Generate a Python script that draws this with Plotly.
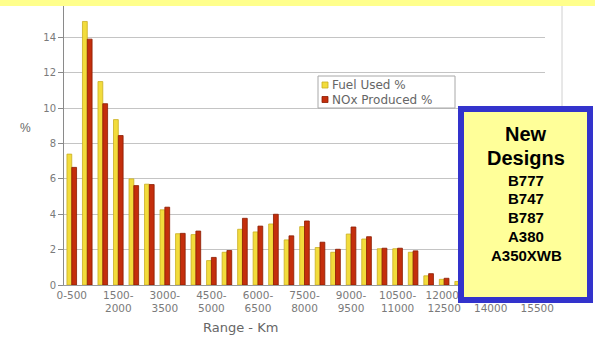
import plotly.graph_objects as go

# Range bands (km)
ranges = [
    "0-500", "500-1000", "1000-1500", "1500-2000", "2000-2500", "2500-3000",
    "3000-3500", "3500-4000", "4000-4500", "4500-5000", "5000-5500", "5500-6000",
    "6000-6500", "6500-7000", "7000-7500", "7500-8000", "8000-8500", "8500-9000",
    "9000-9500", "9500-10000", "10000-10500", "10500-11000", "11000-11500",
    "11500-12000", "12000-12500", "12500-13000", "13000-13500", "13500-14000",
    "14000-14500", "14500-15000", "15000-15500",
]

fuel_used = [
    7.4, 14.9, 11.5, 9.35, 6.0, 5.7, 4.25, 2.9, 2.85, 1.38, 1.85, 3.15,
    3.0, 3.45, 2.55, 3.3, 2.12, 1.85, 2.88, 2.6, 2.05, 2.05, 1.85, 0.52,
    0.32, 0.2, 0.15, 0.12, 0.1, 0.06, 0.05,
]

nox_produced = [
    6.65, 13.9, 10.25, 8.45, 5.62, 5.68, 4.4, 2.92, 3.05, 1.56, 1.95, 3.77,
    3.33, 4.0, 2.78, 3.62, 2.42, 2.02, 3.28, 2.73, 2.08, 2.08, 1.93, 0.64,
    0.38, 0.22, 0.16, 0.13, 0.1, 0.07, 0.05,
]

series_names = ["Fuel Used %", "NOx Produced %"]
series_colors = ["#F2DC3C", "#C42E0C"]
series_edges = ["#C9AE22", "#8A1C00"]

# Every third band gets a tick label
tick_ranges = ranges[::3]
tick_text = [r if i == 0 else r.replace("-", "-<br>") for i, r in enumerate(tick_ranges)]

aircraft = ["B777", "B747", "B787", "A380", "A350XWB"]

W, H = 595, 338
L, R, T, B = 64, 545, 2, 285
FONT = "Liberation Sans, Arial, sans-serif"


def px(x):
    return (x - L) / (R - L)


def py(y):
    return (B - y) / (B - T)


fig = go.Figure()
for name, vals, col, edge in zip(series_names, [fuel_used, nox_produced],
                                 series_colors, series_edges):
    fig.add_trace(go.Bar(
        x=ranges, y=vals, name=name,
        marker=dict(color=col, line=dict(color=edge, width=0.8)),
    ))

fig.update_layout(
    width=W, height=H,
    margin=dict(l=L, r=W - R, t=T, b=H - B),
    paper_bgcolor="white", plot_bgcolor="white",
    barmode="group", bargap=0.38, bargroupgap=0.0,
    font=dict(family=FONT, color="#666"),
    showlegend=False,
    xaxis=dict(
        tickmode="array", tickvals=tick_ranges, ticktext=tick_text,
        tickfont=dict(size=10.5, color="#7A7A7A", family="DejaVu Sans, sans-serif"),
        tickangle=0,
        showline=True, linecolor="#9A9A9A", linewidth=1,
        ticks="", showgrid=False,
    ),
    yaxis=dict(
        range=[0, 16], dtick=2,
        tickfont=dict(size=10, color="#7A7A7A", family="DejaVu Sans, sans-serif"),
        showline=True, linecolor="#8A8A8A", linewidth=1,
        ticks="outside", ticklen=5, tickcolor="#8A8A8A",
        showgrid=True, gridcolor="#C4C4C4", gridwidth=1,
        zeroline=False,
    ),
)

shapes = [
    # pale yellow banner along the top
    dict(type="rect", xref="paper", yref="paper", x0=px(0), x1=px(W),
         y0=py(6), y1=py(-2), fillcolor="#FFFF8C", line=dict(width=0), layer="above"),
    # chart frame edge on the right
    dict(type="line", xref="paper", yref="paper", x0=px(562), x1=px(562),
         y0=py(6), y1=py(292), line=dict(color="#D0D0D0", width=1)),
    # legend frame
    dict(type="rect", xref="paper", yref="paper", x0=px(318), x1=px(455),
         y0=py(108), y1=py(76), fillcolor="white",
         line=dict(color="#A8A8A8", width=1), layer="above"),
    # highlighted box of aircraft types
    dict(type="rect", xref="paper", yref="paper", x0=px(461), x1=px(590),
         y0=py(300), y1=py(109), fillcolor="#FFFF99",
         line=dict(color="#3333CC", width=6), layer="above"),
]

annotations = [
    dict(text="%", x=px(25), y=py(128), xref="paper", yref="paper",
         xanchor="center", yanchor="middle",
         showarrow=False, font=dict(size=12, color="#666")),
    dict(text="Range - Km", x=px(240), y=py(327), xref="paper", yref="paper",
         xanchor="center", yanchor="middle",
         showarrow=False, font=dict(size=13, color="#666", family="DejaVu Sans, sans-serif")),
]

# legend entries
for i, (name, col, edge) in enumerate(zip(series_names, series_colors, series_edges)):
    yc = 85 + i * 14.5
    shapes.append(dict(type="rect", xref="paper", yref="paper",
                       x0=px(322), x1=px(328), y0=py(yc + 3), y1=py(yc - 3),
                       fillcolor=col, line=dict(color=edge, width=0.8), layer="above"))
    annotations.append(dict(
        text=name, x=px(330), y=py(yc), xref="paper", yref="paper",
        xanchor="left", yanchor="middle", showarrow=False,
        font=dict(size=12, color="#666", family="DejaVu Sans, sans-serif"),
    ))

annotations += [
    dict(text="<b>New</b>", x=px(526), y=py(134), xref="paper", yref="paper",
         xanchor="center", yanchor="middle",
         showarrow=False, font=dict(size=20, color="black", family=FONT)),
    dict(text="<b>Designs</b>", x=px(526), y=py(158), xref="paper", yref="paper",
         xanchor="center", yanchor="middle",
         showarrow=False, font=dict(size=20, color="black", family=FONT)),
]
for i, name in enumerate(aircraft):
    annotations.append(dict(
        text=f"<b>{name}</b>", x=px(526), y=py(180 + i * 18.8),
        xref="paper", yref="paper", xanchor="center", yanchor="middle",
        showarrow=False,
        font=dict(size=15, color="black", family=FONT),
    ))

fig.update_layout(shapes=shapes, annotations=annotations)

fig.write_html("out.html")
